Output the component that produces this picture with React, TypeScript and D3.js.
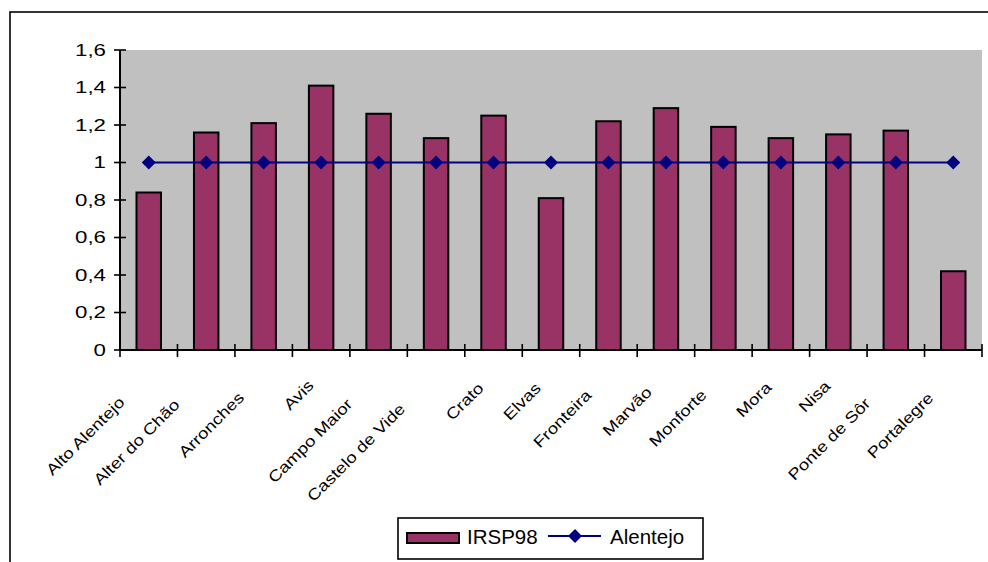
import React, { useEffect, useRef } from "react";
import * as d3 from "d3";

const categories = [
  "Alto Alentejo", "Alter do Chão", "Arronches", "Avis", "Campo Maior",
  "Castelo de Vide", "Crato", "Elvas", "Fronteira", "Marvão",
  "Monforte", "Mora", "Nisa", "Ponte de Sôr", "Portalegre",
];
const irsp98 = [0.84, 1.16, 1.21, 1.41, 1.26, 1.13, 1.25, 0.81, 1.22, 1.29, 1.19, 1.13, 1.15, 1.17, 0.42];
const alentejo = [1, 1, 1, 1, 1, 1, 1, 1, 1, 1, 1, 1, 1, 1, 1];
const yTickValues = [0, 0.2, 0.4, 0.6, 0.8, 1, 1.2, 1.4, 1.6];
const yTickLabels = ["0", "0,2", "0,4", "0,6", "0,8", "1", "1,2", "1,4", "1,6"];
const seriesNames = ["IRSP98", "Alentejo"];

const W = 988;
const H = 562;
const FONT = "'Liberation Sans', Arial, sans-serif";
const BAR = "#993366";
const LINE = "#000080";

export default function App() {
  const ref = useRef<SVGSVGElement | null>(null);

  useEffect(() => {
    const svg = d3.select(ref.current);
    svg.selectAll("*").remove();

    const left = 120, right = 982, top = 50, bottom = 350;
    const x = d3.scaleBand<string>().domain(categories).range([left, right]).paddingInner(0.574).paddingOuter(0.287);
    const y = d3.scaleLinear().domain([0, 1.6]).range([bottom, top]);
    const step = x.step();
    const cx = (c: string) => (x(c) as number) + x.bandwidth() / 2;

    // outer chart border
    svg.append("rect").attr("x", 10).attr("y", 12).attr("width", 1000).attr("height", 600)
      .attr("fill", "white").attr("stroke", "black").attr("stroke-width", 1.6);

    // plot area
    svg.append("rect").attr("x", left).attr("y", top).attr("width", right - left).attr("height", bottom - top)
      .attr("fill", "#C0C0C0");

    // bars
    svg.append("g").selectAll("rect").data(irsp98).join("rect")
      .attr("x", (_d, i) => x(categories[i]) as number)
      .attr("y", (d) => y(d))
      .attr("width", x.bandwidth())
      .attr("height", (d) => y(0) - y(d))
      .attr("fill", BAR).attr("stroke", "black").attr("stroke-width", 2);

    // axes lines
    svg.append("line").attr("x1", left).attr("x2", left).attr("y1", top).attr("y2", bottom)
      .attr("stroke", "black").attr("stroke-width", 2);
    svg.append("line").attr("x1", left).attr("x2", right).attr("y1", bottom).attr("y2", bottom)
      .attr("stroke", "black").attr("stroke-width", 2);

    // y ticks
    const yt = svg.append("g");
    yTickValues.forEach((v, i) => {
      yt.append("line").attr("x1", left - 6).attr("x2", left + 6).attr("y1", y(v)).attr("y2", y(v))
        .attr("stroke", "black").attr("stroke-width", 1.6);
      yt.append("text").attr("transform", `translate(106,${y(v)}) scale(1.35,1)`)
        .attr("text-anchor", "end").attr("dy", "0.36em")
        .attr("font-family", FONT).attr("font-size", 16.5).attr("fill", "black")
        .text(yTickLabels[i]);
    });

    // x ticks at category boundaries
    const xt = svg.append("g");
    d3.range(categories.length + 1).forEach((i) => {
      const xx = left + i * step;
      xt.append("line").attr("x1", xx).attr("x2", xx).attr("y1", bottom - 6).attr("y2", bottom + 7)
        .attr("stroke", "black").attr("stroke-width", 1.6);
    });

    // category labels
    const lg = svg.append("g");
    categories.forEach((c) => {
      const g = lg.append("g").attr("transform", `translate(${cx(c) + 2},378) rotate(-45) scale(1.2,1)`);
      const t = g.append("text").attr("text-anchor", "end")
        .attr("font-family", FONT).attr("font-size", 15.5).attr("fill", "black").text(c);
      const L = (t.node() as SVGTextElement).getComputedTextLength();
      t.attr("x", -0.345 * L);
    });

    // line series
    const line = d3.line<number>().x((_d, i) => cx(categories[i])).y((d) => y(d));
    svg.append("path").attr("d", line(alentejo) as string).attr("fill", "none")
      .attr("stroke", LINE).attr("stroke-width", 2);
    const diamond = (px: number, py: number, r: number) => `M${px},${py - r}L${px + r},${py}L${px},${py + r}L${px - r},${py}Z`;
    svg.append("g").selectAll("path").data(alentejo).join("path")
      .attr("d", (d, i) => diamond(cx(categories[i]), y(d), 7))
      .attr("fill", LINE);

    // legend
    const leg = svg.append("g");
    leg.append("rect").attr("x", 398).attr("y", 518).attr("width", 305).attr("height", 41)
      .attr("fill", "white").attr("stroke", "black").attr("stroke-width", 1.6);
    leg.append("rect").attr("x", 407).attr("y", 533).attr("width", 52).attr("height", 10)
      .attr("fill", BAR).attr("stroke", "black").attr("stroke-width", 2);
    leg.append("text").attr("x", 467).attr("y", 543.5).attr("font-family", FONT).attr("font-size", 20.5)
      .attr("fill", "black").text(seriesNames[0]);
    leg.append("line").attr("x1", 548).attr("x2", 601).attr("y1", 536).attr("y2", 536)
      .attr("stroke", LINE).attr("stroke-width", 2);
    leg.append("path").attr("d", diamond(575, 536, 7)).attr("fill", LINE);
    leg.append("text").attr("x", 610).attr("y", 543.5).attr("font-family", FONT).attr("font-size", 20.5)
      .attr("fill", "black").text(seriesNames[1]);
  }, []);

  return (
    <svg ref={ref} width={W} height={H}
      style={{ position: "absolute", left: 0, top: 0, background: "white" }} />
  );
}
